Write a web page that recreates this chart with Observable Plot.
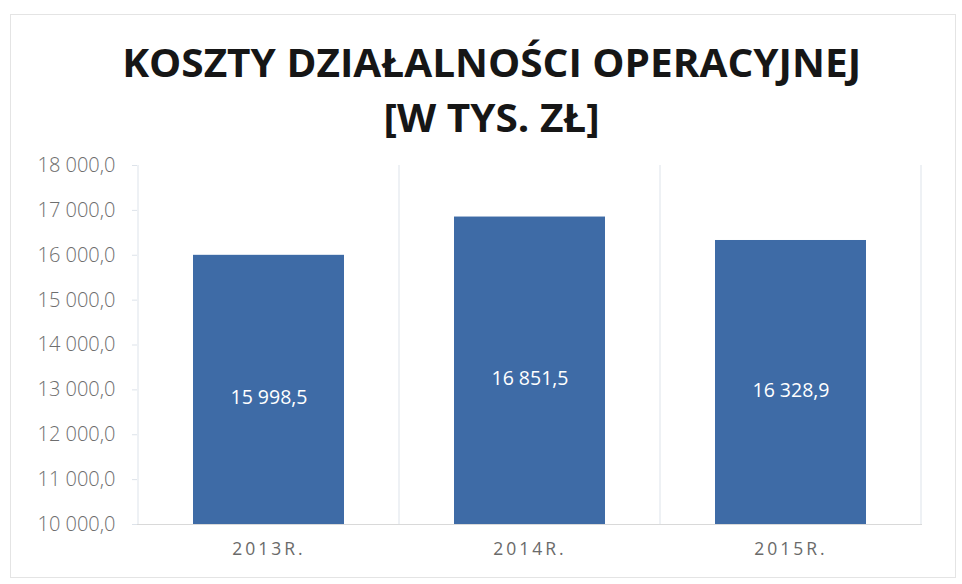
<!DOCTYPE html>
<html>
<head>
<meta charset="utf-8">
<script src="https://cdn.jsdelivr.net/npm/d3@7"></script>
<script src="https://cdn.jsdelivr.net/npm/@observablehq/plot@0.6"></script>
<style>
  html, body { margin: 0; padding: 0; background: #fff; }
  #wrap { position: relative; width: 962px; height: 584px; overflow: hidden; background: #fff; }
  #frame { position: absolute; left: 10px; top: 14px; width: 946px; height: 564px; border: 1px solid #e4e4e4; box-sizing: border-box; }
  #title { position: absolute; left: 11px; top: 34px; width: 962px; text-align: center;
           font-family: "Open Sans", sans-serif; font-weight: 700; color: #161616; }
  #title div { height: 55px; line-height: 55px; }
  #title span { display: inline-block; font-size: 40px; white-space: nowrap; transform-origin: center center; }
  #chart { position: absolute; left: 0; top: 140px; }
  .kdo g[aria-label="x-axis tick label"] text { letter-spacing: 3px; }
  .kdo g[aria-label="y-axis tick label"] text { font-weight: 300; }
</style>
</head>
<body>
<div id="wrap">
  <div id="frame"></div>
  <div id="title"></div>
  <div id="chart"></div>
</div>
<script>
const titleLines = ["KOSZTY DZIAŁALNOŚCI OPERACYJNEJ", "[W TYS. ZŁ]"];
const years = ["2013R.", "2014R.", "2015R."];
const costs = [15998.5, 16851.5, 16328.9];
const yTicks = [10000, 11000, 12000, 13000, 14000, 15000, 16000, 17000, 18000];

const data = years.map((year, i) => ({year, value: costs[i]}));
const pl = d3.formatLocale({decimal: ",", thousands: "\u00a0", grouping: [3], currency: ["", " zł"]});
const fmt = pl.format(",.1f");

// Title
const titleEl = document.getElementById("title");
const spans = titleLines.map(t => {
  const line = document.createElement("div");
  const s = document.createElement("span");
  s.textContent = t;
  line.appendChild(s);
  titleEl.appendChild(line);
  return s;
});
const w0 = spans[0].getBoundingClientRect().width;
const k = 739 / w0;
spans.forEach(s => { s.style.transform = `scaleX(${k})`; });

const barColor = "#3e6ba6";
const gridColor = "#dde3ea";
const yMin = yTicks[0], yMax = yTicks[yTicks.length - 1];

// vertical separators at band boundaries (computed from the band scale)
function bandSeparators(index, scales, values, dimensions) {
  const x = scales.x, y = scales.y;
  const g = d3.create("svg:g").attr("aria-label", "band separators");
  const dom = x.domain();
  const step = x.step(), bw = x.bandwidth();
  const edges = dom.map(d => x(d) - (step - bw) / 2);
  edges.push(x(dom[dom.length - 1]) + bw + (step - bw) / 2);
  g.selectAll("line").data(edges).join("line")
    .attr("x1", d => d).attr("x2", d => d)
    .attr("y1", y(yMax)).attr("y2", y(yMin))
    .attr("stroke", gridColor).attr("stroke-width", 1);
  return g.node();
}

const chart = Plot.plot({
  className: "kdo",
  width: 962,
  height: 430,
  marginTop: 25,
  marginBottom: 46,
  marginLeft: 137,
  marginRight: 40,
  style: {fontFamily: "'Open Sans', sans-serif", background: "transparent"},
  x: {domain: years, paddingInner: 0.42, paddingOuter: 0.21, label: null},
  y: {domain: [yMin, yMax], label: null},
  marks: [
    bandSeparators,
    Plot.barY(data, {x: "year", y1: yMin, y2: "value", fill: barColor}),
    Plot.ruleY([yMin], {stroke: "#d9d9d9", strokeWidth: 1.2}),
    Plot.axisY({ticks: yTicks, tickFormat: fmt, tickSize: 5, tickPadding: 17,
                stroke: gridColor, fill: "#6e6e6e", fontSize: 20, label: null}),
    Plot.axisX({tickSize: 0, tickPadding: 18, fill: "#6a6a6a", fontSize: 17.5, label: null}),
    Plot.text(data, {x: "year", y: d => (yMin + d.value) / 2, text: d => fmt(d.value),
                     fill: "white", fontSize: 19.5, dy: 8})
  ]
});
document.getElementById("chart").appendChild(chart);
</script>
</body>
</html>
